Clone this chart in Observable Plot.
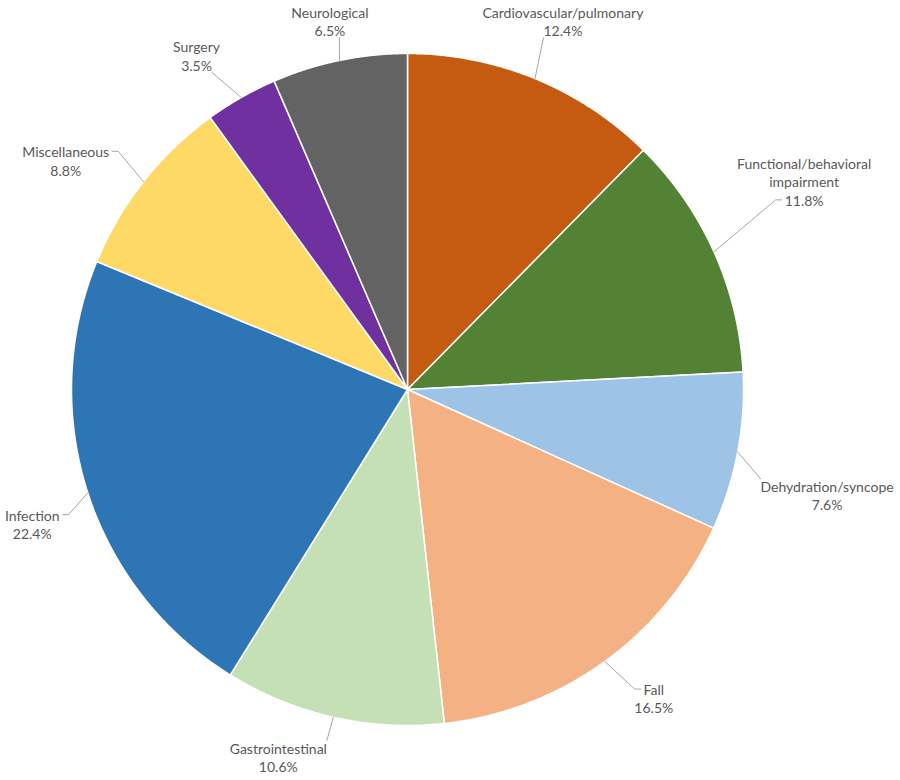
<!DOCTYPE html>
<html>
<head>
<meta charset="utf-8">
<script src="https://cdn.jsdelivr.net/npm/d3@7"></script>
<script src="https://cdn.jsdelivr.net/npm/@observablehq/plot@0.6"></script>
<style>
  html, body { margin: 0; padding: 0; background: #ffffff; }
  #chart { width: 900px; height: 780px; }
</style>
</head>
<body>
<div id="chart"></div>
<script>
// ---- Data ----
const categories = [
  "Cardiovascular/pulmonary",
  "Functional/behavioral impairment",
  "Dehydration/syncope",
  "Fall",
  "Gastrointestinal",
  "Infection",
  "Miscellaneous",
  "Surgery",
  "Neurological"
];
const shares = [12.4, 11.8, 7.6, 16.5, 10.6, 22.4, 8.8, 3.5, 6.5];
const labelNames = [
  "Cardiovascular/pulmonary",
  "Functional/behavioral\nimpairment",
  "Dehydration/syncope",
  "Fall",
  "Gastrointestinal",
  "Infection",
  "Miscellaneous",
  "Surgery",
  "Neurological"
];
const colors = ["#C55A11", "#548235", "#9DC3E6", "#F4B183", "#C5E0B4", "#2E75B6", "#FFD966", "#7030A0", "#636363"];

// ---- Layout (not data) ----
const W = 900, H = 780;
const cx = 407, cy = 389, R = 336;
const fontFamily = "Lato, 'Open Sans', sans-serif";
const fontSize = 14;
const lineH = 18.5;
const gapX = 26, gapTop = 6, gapBottom = 20;
// manual label nudges in pixels (like dragged data labels), per slice order
const labelNudge = [[4, 1], [0, -30], [-7, 25], [15, -10], [-43, -13], [4, 12], [-23, 22], [-22, -2], [-2, -3]];

const total = d3.sum(shares);
const slices = [];
let cum = 0;
categories.forEach((name, i) => {
  const a0 = cum / total * 2 * Math.PI;
  cum += shares[i];
  const a1 = cum / total * 2 * Math.PI;
  slices.push({name, share: shares[i], a0, a1, mid: (a0 + a1) / 2, label: labelNames[i]});
});

// polygon points for each slice (unit circle coords, y up, clockwise from top)
const slicePts = [];
for (const s of slices) {
  slicePts.push({name: s.name, x: 0, y: 0});
  const n = Math.max(2, Math.ceil((s.a1 - s.a0) / 0.004));
  for (let k = 0; k <= n; k++) {
    const a = s.a0 + (s.a1 - s.a0) * k / n;
    slicePts.push({name: s.name, x: Math.sin(a), y: Math.cos(a)});
  }
}

// text measurement
const ctx = document.createElement("canvas").getContext("2d");
ctx.font = `${fontSize}px ${fontFamily}`;

const toU = (px, py) => ({x: (px - cx) / R, y: (cy - py) / R});
const clamp = (v, a, b) => Math.max(a, Math.min(b, v));
const labels = [];
const leaders = [];
slices.forEach((s, i) => {
  const text = s.label + "\n" + s.share.toFixed(1) + "%";
  const lines = text.split("\n");
  const widths = lines.map(l => ctx.measureText(l).width);
  const halfW = d3.max(widths) / 2;
  const halfH = lines.length * lineH / 2;
  const sx = Math.sin(s.mid), sy = Math.cos(s.mid);
  const gapY = sy > 0 ? gapTop : gapBottom;
  const d = R + Math.abs(sx) * (halfW + gapX) + Math.abs(sy) * (halfH + gapY);
  const Cx = cx + d * sx + labelNudge[i][0];
  const Cy = cy - d * sy + labelNudge[i][1];
  const Ex = cx + R * sx, Ey = cy - R * sy;
  // candidate attachment points: ends of each text line, and top / bottom of the block
  const cands = [];
  lines.forEach((l, j) => {
    const ly = Cy + (j - (lines.length - 1) / 2) * lineH;
    cands.push({x: Cx - widths[j] / 2 - 3, y: ly, side: -1});
    cands.push({x: Cx + widths[j] / 2 + 3, y: ly, side: 1});
  });
  const wTop = widths[0] / 2, wBot = widths[widths.length - 1] / 2;
  cands.push({x: clamp(Ex, Cx - wTop, Cx + wTop), y: Cy - halfH + 2, side: 0, pen: 3});
  cands.push({x: clamp(Ex, Cx - wBot, Cx + wBot), y: Cy + halfH - 2, side: 0, pen: 3});
  const best = d3.least(cands, c => Math.hypot(c.x - Ex, c.y - Ey) + (c.pen || 0));
  labels.push({...toU(Cx, Cy), text});
  leaders.push({id: i, ...toU(Ex, Ey)});
  if (best.side !== 0) leaders.push({id: i, ...toU(best.x + best.side * 6, best.y)});
  leaders.push({id: i, ...toU(best.x, best.y)});
});

const chart = Plot.plot({
  width: W,
  height: H,
  margin: 0,
  x: {domain: [-1, 1], range: [cx - R, cx + R], axis: null},
  y: {domain: [-1, 1], range: [cy + R, cy - R], axis: null},
  color: {domain: categories, range: colors},
  style: {fontFamily, background: "#ffffff"},
  marks: [
    Plot.line(slicePts, {x: "x", y: "y", z: "name", fill: "name", stroke: "#ffffff", strokeWidth: 1.5, curve: "linear-closed"}),
    Plot.line(leaders, {x: "x", y: "y", z: "id", stroke: "#A6A6A6", strokeWidth: 1}),
    Plot.text(labels, {x: "x", y: "y", text: "text", fontSize, lineHeight: lineH / fontSize, fill: "#595959", textAnchor: "middle"})
  ]
});
document.getElementById("chart").appendChild(chart);
</script>
</body>
</html>
